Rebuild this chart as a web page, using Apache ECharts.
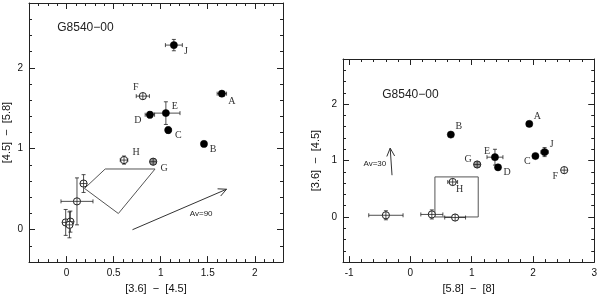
<!DOCTYPE html>
<html><head><meta charset="utf-8">
<script src="https://cdn.jsdelivr.net/npm/echarts@6/dist/echarts.min.js"></script>
<style>html,body{margin:0;padding:0;background:#fff}#c{width:600px;height:299px}</style>
</head><body><div id="c"></div>
<script>
// ---------- Left panel data: [3.6]-[4.5] vs [4.5]-[5.8] ----------
const leftNames  = ['J','A','F','E','D','C','B','H','G','','','','',''];
const leftX      = [1.14,1.65,0.81,1.055,0.885,1.08,1.46,0.61,0.92,0.18,0.11,-0.01,0.04,0.03];
const leftY      = [2.28,1.68,1.65,1.44,1.42,1.23,1.06,0.86,0.84,0.57,0.35,0.09,0.10,0.06];
const leftXErr   = [0.09,0.05,0.07,0.15,0.05,0.03,0,0.04,0.01,0.02,0.17,0.02,0.02,0.03];
const leftYErr   = [0.07,0,0.03,0.14,0.04,0.04,0,0.05,0.02,0.11,0.29,0.16,0.13,0.16];
const leftKind   = [1,1,0,1,1,1,1,0,2,0,0,0,0,0]; // 1 filled, 0 open, 2 grey
const leftPolyX  = [0.19,0.41,0.94,0.55,0.19];
const leftPolyY  = [0.51,0.75,0.75,0.20,0.51];
const leftArrow  = [0.70,0.0,1.70,0.50];
const leftXTicks = [0,0.5,1,1.5,2];
const leftYTicks = [0,1,2];

// ---------- Right panel data: [5.8]-[8] vs [3.6]-[4.5] ----------
const rightNames = ['A','B','E','C','J','G','D','F','H','','',''];
const rightX     = [1.94,0.66,1.38,2.04,2.19,1.09,1.43,2.51,0.69,-0.40,0.35,0.73];
const rightY     = [1.65,1.46,1.06,1.08,1.15,0.93,0.88,0.83,0.62,0.03,0.045,-0.01];
const rightXErr  = [0,0,0.13,0,0.06,0.02,0.04,0.02,0.08,0.28,0.18,0.17];
const rightYErr  = [0,0,0.14,0,0.08,0.02,0.04,0.02,0.03,0.08,0.08,0.05];
const rightKind  = [1,1,1,1,1,2,1,0,0,0,0,0];
const rightBoxX  = [0.40,0.40,1.107,1.107,0.40];
const rightBoxY  = [0,0.71,0.71,0,0];
const rightArrow = [-0.30,0.74,-0.33,1.22];
const rightXTicks = [-1,0,1,2,3];
const rightYTicks = [0,1,2];

// ---------- Annotations ----------
const titleText = 'G8540\u221200';
const leftTitlePos = [-0.10,2.49];
const rightTitlePos = [-0.46,2.16];
const leftAvText = 'Av=90';
const leftAvPos = [1.43,0.20];
const rightAvText = 'Av=30';
const rightAvPos = [-0.58,0.94];
const leftXName = '[3.6]  \u2212  [4.5]';
const leftYName = '[4.5]  \u2212  [5.8]';
const rightXName = '[5.8]  \u2212  [8]';
const rightYName = '[3.6]  \u2212  [4.5]';

// label offsets in pixels (layout)
const leftLabelOff  = [[12,6],[10,8],[-7,-9],[9,-7],[-12,6],[10,5],[9,5],[12,-8],[11,7]];
const rightLabelOff = [[8,-8],[8,-8],[-8,-6],[-8,5],[7,-8],[-9,-5],[9,5],[-9,6],[7,7]];

function range(a,b,s){const r=[];const n=Math.round((b-a)/s);for(let i=0;i<=n;i++)r.push(+(a+i*s).toFixed(6));return r;}

const axisColor = '#222';
const tickFont = {fontFamily:'Liberation Sans', fontSize:10, color:'#111'};

function makeAxes(dim, grid, min, max, majors, minors, name, nameGap){
  const posA = dim==='x' ? 'bottom' : 'left';
  const posB = dim==='x' ? 'top' : 'right';
  const base = {gridIndex:grid, type:'value', min, max, splitLine:{show:false}};
  const line = {show:true, onZero:false, lineStyle:{color:axisColor, width:1}};
  return [
    Object.assign({}, base, {position:posA, axisLine:line,
      axisTick:{show:true, inside:true, length:6, customValues:majors, lineStyle:{color:axisColor}},
      axisLabel:{show:true, customValues:majors, margin:6, ...tickFont, formatter:v=>String(v)},
      name, nameLocation:'middle', nameGap,
      nameTextStyle:{fontFamily:'Liberation Sans', fontSize:11, color:'#111'}}),
    Object.assign({}, base, {position:posA, axisLine:{show:false, onZero:false},
      axisTick:{show:true, inside:true, length:3, customValues:minors, lineStyle:{color:axisColor}},
      axisLabel:{show:false}}),
    Object.assign({}, base, {position:posB, axisLine:line,
      axisTick:{show:true, inside:true, length:6, customValues:majors, lineStyle:{color:axisColor}},
      axisLabel:{show:false}}),
    Object.assign({}, base, {position:posB, axisLine:{show:false, onZero:false},
      axisTick:{show:true, inside:true, length:3, customValues:minors, lineStyle:{color:axisColor}},
      axisLabel:{show:false}})
  ];
}

function markerSeries(xi, yi, xs, ys, xe, ye, kind, names, offs){
  const data = xs.map((x,i)=>[x, ys[i], xe[i], ye[i], kind[i], i]);
  return {type:'custom', xAxisIndex:xi, yAxisIndex:yi, data, encode:{x:0,y:1}, clip:false, z:5,
    renderItem(params, api){
      const x=api.value(0), y=api.value(1), ex=api.value(2), ey=api.value(3), k=api.value(4), i=api.value(5);
      const c = api.coord([x,y]);
      const st = {stroke:'#222', lineWidth:0.8};
      const ch = [];
      const cap = 2;
      if (ex>0){
        const a=api.coord([x-ex,y]), b=api.coord([x+ex,y]);
        ch.push({type:'line', shape:{x1:a[0],y1:a[1],x2:b[0],y2:b[1]}, style:st});
        ch.push({type:'line', shape:{x1:a[0],y1:a[1]-cap,x2:a[0],y2:a[1]+cap}, style:st});
        ch.push({type:'line', shape:{x1:b[0],y1:b[1]-cap,x2:b[0],y2:b[1]+cap}, style:st});
      }
      if (ey>0){
        const a=api.coord([x,y-ey]), b=api.coord([x,y+ey]);
        ch.push({type:'line', shape:{x1:a[0],y1:a[1],x2:b[0],y2:b[1]}, style:st});
        ch.push({type:'line', shape:{x1:a[0]-cap,y1:a[1],x2:a[0]+cap,y2:a[1]}, style:st});
        ch.push({type:'line', shape:{x1:b[0]-cap,y1:b[1],x2:b[0]+cap,y2:b[1]}, style:st});
      }
      const r = 3.6;
      if (k===1){
        ch.push({type:'circle', shape:{cx:c[0],cy:c[1],r}, style:{fill:'#000', stroke:'#000', lineWidth:0.5}});
      } else {
        ch.push({type:'circle', shape:{cx:c[0],cy:c[1],r}, style:{fill:k===2?'#999':'#fff', stroke:'#222', lineWidth:1}});
        ch.push({type:'line', shape:{x1:c[0]-r,y1:c[1],x2:c[0]+r,y2:c[1]}, style:st});
        ch.push({type:'line', shape:{x1:c[0],y1:c[1]-r,x2:c[0],y2:c[1]+r}, style:st});
      }
      if (names[i]){
        const o = offs[i];
        ch.push({type:'text', style:{text:names[i], x:c[0]+o[0], y:c[1]+o[1], align:'center', verticalAlign:'middle',
          font:'10px "Liberation Serif"', fill:'#333'}});
      }
      return {type:'group', children:ch};
    }};
}

function outlineSeries(xi, yi, xs, ys){
  return {type:'line', xAxisIndex:xi, yAxisIndex:yi, data:xs.map((x,i)=>[x,ys[i]]), symbol:'none',
    lineStyle:{color:'#555', width:1}, silent:true, z:3};
}

function arrowSeries(xi, yi, a){
  return {type:'custom', xAxisIndex:xi, yAxisIndex:yi, data:[a], clip:false, silent:true, z:3,
    renderItem(params, api){
      const p=api.coord([api.value(0),api.value(1)]), q=api.coord([api.value(2),api.value(3)]);
      const ang=Math.atan2(q[1]-p[1], q[0]-p[0]);
      const L=9, w=0.45;
      const h1=[q[0]-L*Math.cos(ang-w), q[1]-L*Math.sin(ang-w)];
      const h2=[q[0]-L*Math.cos(ang+w), q[1]-L*Math.sin(ang+w)];
      const st={stroke:'#333', lineWidth:1};
      return {type:'group', children:[
        {type:'line', shape:{x1:p[0],y1:p[1],x2:q[0],y2:q[1]}, style:st},
        {type:'polyline', shape:{points:[h1,q,h2]}, style:Object.assign({fill:null},st)}
      ]};
    }};
}

function textSeries(xi, yi, pos, text, font, align){
  return {type:'custom', xAxisIndex:xi, yAxisIndex:yi, data:[pos], clip:false, silent:true, z:4,
    renderItem(params, api){
      const c=api.coord([api.value(0),api.value(1)]);
      return {type:'text', style:{text, x:c[0], y:c[1], align, verticalAlign:'middle', font, fill:'#222'}};
    }};
}

const xAxes = [].concat(
  makeAxes('x',0,-0.4,2.3,leftXTicks,range(-0.4,2.3,0.1),leftXName,17),
  makeAxes('x',1,-1.1,3.0,rightXTicks,range(-1.0,3.0,0.2),rightXName,14)
);
const yAxes = [].concat(
  makeAxes('y',0,-0.4,2.8,leftYTicks,range(-0.4,2.8,0.2),leftYName,17),
  makeAxes('y',1,-0.8,2.8,rightYTicks,range(-0.8,2.8,0.2),rightYName,22)
);

const chart = echarts.init(document.getElementById('c'), null, {renderer:'canvas'});
chart.setOption({
  animation:false,
  backgroundColor:'#fff',
  grid:[
    {left:29, top:3, width:254, height:265},
    {left:343, top:59, width:255, height:212}
  ],
  xAxis:xAxes,
  yAxis:yAxes,
  series:[
    outlineSeries(0,0,leftPolyX,leftPolyY),
    arrowSeries(0,0,leftArrow),
    markerSeries(0,0,leftX,leftY,leftXErr,leftYErr,leftKind,leftNames,leftLabelOff),
    textSeries(0,0,leftTitlePos,titleText,'12px "Liberation Sans"','left'),
    textSeries(0,0,leftAvPos,leftAvText,'8px "Liberation Sans"','center'),
    outlineSeries(4,4,rightBoxX,rightBoxY),
    arrowSeries(4,4,rightArrow),
    markerSeries(4,4,rightX,rightY,rightXErr,rightYErr,rightKind,rightNames,rightLabelOff),
    textSeries(4,4,rightTitlePos,titleText,'12px "Liberation Sans"','left'),
    textSeries(4,4,rightAvPos,rightAvText,'8px "Liberation Sans"','center')
  ]
});
</script></body></html>
